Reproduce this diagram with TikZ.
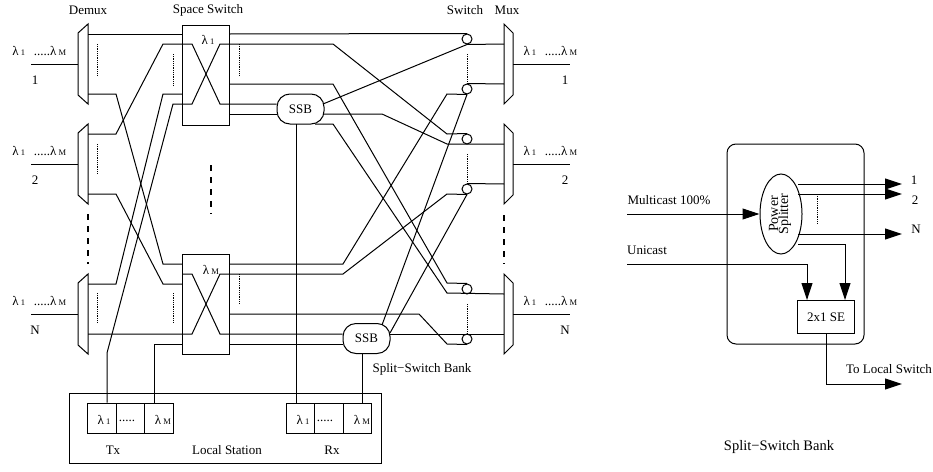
\documentclass[tikz,border=0pt]{standalone}
\usepackage{fontspec}
\setmainfont{Liberation Serif}
\usetikzlibrary{arrows.meta,shapes.geometric}

\newcommand{\wl}[1]{λ\,{\fontsize{8.5}{9}\selectfont #1}}

\begin{document}
\begin{tikzpicture}[
  x=1pt, y=-1pt, line width=1pt,
  lbl/.style={inner sep=0pt, font=\fontsize{13}{15}\selectfont},
  basel/.style={lbl, anchor=base west},
  switchbox/.style={draw, minimum width=47pt, minimum height=100pt, inner sep=0pt},
  ssb/.style={draw, rounded corners=13pt, minimum width=47pt, minimum height=30pt, inner sep=0pt, font=\fontsize{13}{15}\selectfont},
  slot/.style={draw, minimum width=28.5pt, minimum height=30pt, inner sep=0pt},
  toggle/.style={draw, circle, minimum size=10pt, inner sep=0pt},
  dots/.style={densely dotted, line width=0.8pt},
  bigdash/.style={line width=1.5pt, dash pattern=on 6pt off 6pt},
  arr/.style={-{Triangle[length=17pt,width=11pt]}}
]
  \useasboundingbox (0,0) rectangle (933,471);

  % demux and mux columns
  \foreach \n/\y/\t in {A/64/1,B/164/2,C/314/N}{
    \draw (88,\y-40) -- (78,\y-31) -- (78,\y+31) -- (88,\y+40) -- cycle;
    \coordinate (in\n) at (78,\y);
    \coordinate (src\n) at (31,\y);
    \draw (src\n) -- (in\n);
    \node[basel] (inlam\n) at (12,\y-9) {\wl{1}\ \ \,.....\wl{M}};
    \node[lbl] (innum\n) at (35,\y+16) {\t};
    \draw (504,\y-40) -- (513,\y-31) -- (513,\y+31) -- (504,\y+40) -- cycle;
    \coordinate (out\n) at (513,\y);
    \coordinate (dst\n) at (570,\y);
    \draw (out\n) -- (dst\n);
    \node[basel] (outlam\n) at (523,\y-9) {\wl{1}\ \ \,.....\wl{M}};
    \node[lbl] (outnum\n) at (565,\y+16) {\t};
  }

  \node[lbl] (demuxlbl) at (88,10) {Demux};
  \node[lbl] (spacelbl) at (208,10) {Space Switch};
  \node[lbl] (switchlbl) at (465,10) {Switch};
  \node[lbl] (muxlbl) at (507,10) {Mux};

  % space switches
  \node[switchbox] (spaceA) at (206,75) {};
  \node[switchbox] (spaceB) at (206,304) {};
  \node[lbl] (spaceAlam) at (208,40) {\wl{1}};
  \node[lbl] (spaceBlam) at (211,270) {\wl{M}};

  % split-switch banks
  \node[ssb] (ssbA) at (300.5,109) {SSB};
  \node[ssb] (ssbB) at (366.5,338.5) {SSB};
  \node[lbl] (ssblbl) at (422,369) {Split−Switch Bank};

  % output toggles
  \node[toggle] (togA) at (467,39) {};
  \node[toggle] (togB) at (467,89) {};
  \node[toggle] (togC) at (467,139) {};
  \node[toggle] (togD) at (467,189) {};
  \node[toggle] (togE) at (467,289) {};
  \node[toggle] (togF) at (467,339) {};

  % local station
  \node[draw, minimum width=312pt, minimum height=70pt, inner sep=0pt] (station) at (225,428) {};
  \node[slot] (txA) at (101.75,418) {};
  \node[slot] (txB) at (130.25,418) {};
  \node[slot] (txC) at (158.75,418) {};
  \node[slot] (rxA) at (300.5,418) {};
  \node[slot] (rxB) at (329,418) {};
  \node[slot] (rxC) at (357.5,418) {};
  \foreach \n/\x in {tx/104,rx/303}{
    \node[lbl] (\n lamA) at (\x,420) {\wl{1}};
  }
  \node[lbl] (txdots) at (127,421) {.....};
  \node[lbl] (rxdots) at (325,421) {.....};
  \node[lbl] (txlamM) at (163,420) {\wl{M}};
  \node[lbl] (rxlamM) at (362,420) {\wl{M}};
  \node[lbl] (txlbl) at (113,450) {Tx};
  \node[lbl] (stationlbl) at (227,450) {Local Station};
  \node[lbl] (rxlbl) at (332,450) {Rx};

  % demux outputs into the space switches
  \draw (88,34) -- (spaceA.west |- 0,34);
  \draw (88,94) -- (116,94) -- (163,264) -- (spaceB.west |- 0,264);
  \draw (88,134) -- (116,134) -- (163,44) -- (192,44) -- (220,104) -- (ssbA.west |- 0,104);
  \draw (88,194) -- (116,194) -- (163,284) -- (spaceB.west |- 0,284);
  \draw (88,284) -- (116,284) -- (163,94) -- (spaceA.west |- 0,94);
  \draw (88,334) -- (192,334) -- (220,274) -- (343,274) -- (447,194) -- (togD.south);

  % inside the switches
  \draw (togD.south) -- (390,333);
  \draw (txA.north -| 107,0) -- (107,353) -- (173,104) -- (192,104) -- (220,44) -- (333,44) -- (447,134) -- (togC.north);
  \draw (txC.north -| 154,0) -- (154,344) -- (spaceB.west |- 0,344);
  \draw (spaceB.west |- 0,274) -- (192,274) -- (220,334) -- (ssbB.west |- 0,334);

  % switch outputs towards toggles and banks
  \draw (spaceA.east |- 0,34) -- (togA.north);
  \draw (spaceA.east |- 0,84) -- (333,84) -- (447,283) -- (togE.north);
  \draw (spaceA.east |- 0,114) -- (ssbA.west |- 0,114);
  \draw (spaceB.east |- 0,264) -- (343,264) -- (447,94) -- (togB.south);
  \draw (spaceB.east |- 0,314) -- (419,314) -- (447,344) -- (togF.south);
  \draw (spaceB.east |- 0,344) -- (ssbB.west |- 0,344);

  % banks towards toggles and muxes
  \draw (323,104) -- (togA.south) -- (504,44);
  \draw (323,114) -- (382,114) -- (447,144) -- (504,144);
  \draw (315,124) -- (333,124) -- (447,293) -- (504,294);
  \draw (382,325) -- (togB.south);
  \draw (389,334) -- (504,334);
  \draw (togB.north) -- (504,84);
  \draw (togD.north) -- (504,184);

  % banks down to the receivers
  \draw (296,124) -- (296,403);
  \draw (362,353.5) -- (362,403);

  % dotted and dashed fillers
  \foreach \x/\a/\b in {97/44/75,97/144/174,97/293/323,173/54/85,173/293/323,239/44/75,239/274/303,467/54/84,467/154/184,467/304/334}{
    \draw[dots] (\x,\a) -- (\x,\b);
  }
  \draw[bigdash] (88,214) -- (88,264);
  \draw[bigdash] (211,165) -- (211,214);
  \draw[bigdash] (504,215) -- (504,264);

  % split-switch bank detail
  \node[draw, rounded corners=9pt, minimum width=137pt, minimum height=200pt, inner sep=0pt] (bank) at (795.5,244) {};
  \node[draw, ellipse, minimum width=42pt, minimum height=80pt, inner sep=0pt] (splitter) at (781,214) {};
  \node[lbl, rotate=90, align=center, font=\fontsize{14}{10}\selectfont] (splitterlbl) at (780,214) {Power\\Splitter};
  \node[draw, minimum width=57pt, minimum height=33pt, inner sep=0pt, font=\fontsize{13}{15}\selectfont] (se) at (826,317) {2x1 SE};

  \coordinate (mcast) at (627,214);
  \coordinate (ucast) at (627,264);
  \draw[arr] (mcast) -- (splitter.west);
  \draw[arr] (ucast) -- (807,264) -- (se.north -| 807,0);
  \draw[arr] (798,184) -- (902,184);
  \draw[arr] (798,194) -- (902,194);
  \draw[arr] (798,234) -- (902,234);
  \draw[arr] (798,244) -- (845,244) -- (se.north -| 845,0);
  \draw[arr] (se.south) -- (826,384) -- (902,384);
  \draw[dots] (817,194) -- (817,224);

  \node[lbl] (mcastlbl) at (669,200) {Multicast 100\%};
  \node[lbl] (ucastlbl) at (647,250) {Unicast};
  \node[lbl] (outa) at (914,180) {1};
  \node[lbl] (outb) at (915,200) {2};
  \node[lbl] (outn) at (916,229) {N};
  \node[lbl] (tolocal) at (889,369) {To Local Switch};
  \node[lbl, font=\fontsize{14.5}{16}\selectfont] (banklbl) at (779,447) {Split−Switch Bank};
\end{tikzpicture}
\end{document}
